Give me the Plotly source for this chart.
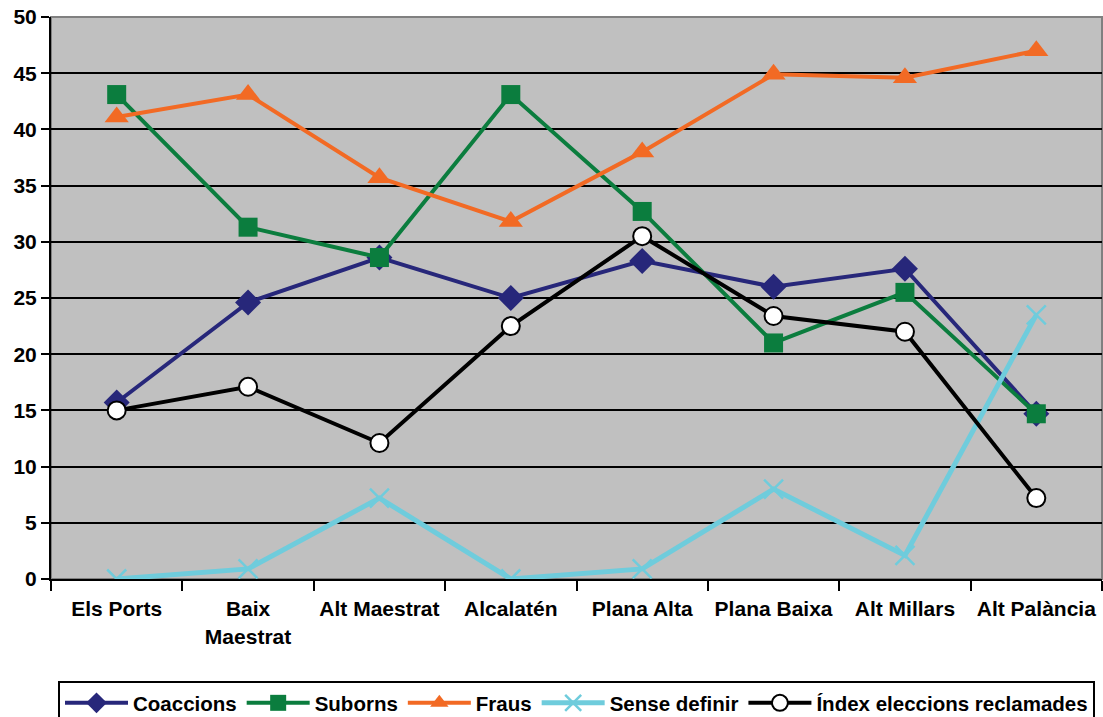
import plotly.graph_objects as go

categories = ["Els Ports", "Baix<br>Maestrat", "Alt Maestrat", "Alcalatén",
              "Plana Alta", "Plana Baixa", "Alt Millars", "Alt Palància"]

coaccions = [15.7, 24.6, 28.6, 25.0, 28.3, 26.0, 27.6, 14.7]
suborns = [43.1, 31.3, 28.6, 43.1, 32.7, 21.0, 25.5, 14.7]
fraus = [41.1, 43.1, 35.7, 31.8, 38.0, 44.9, 44.6, 47.0]
sense_definir = [0.0, 0.9, 7.2, 0.0, 0.9, 8.0, 2.1, 23.5]
index_reclamades = [15.0, 17.1, 12.1, 22.5, 30.5, 23.4, 22.0, 7.2]

y_ticks = [0, 5, 10, 15, 20, 25, 30, 35, 40, 45, 50]

NAVY = "#27277A"
GREEN = "#0B7D3E"
ORANGE = "#F26A24"
LBLUE = "#6FCCDC"

fig = go.Figure()

fig.add_trace(go.Scatter(
    x=categories, y=coaccions, name="Coaccions", mode="lines+markers",
    line=dict(color=NAVY, width=4),
    marker=dict(symbol="diamond", size=20, color=NAVY),
))
fig.add_trace(go.Scatter(
    x=categories, y=suborns, name="Suborns", mode="lines+markers",
    line=dict(color=GREEN, width=4),
    marker=dict(symbol="square", size=19, color=GREEN),
))
fig.add_trace(go.Scatter(
    x=categories, y=fraus, name="Fraus", mode="lines+markers",
    line=dict(color=ORANGE, width=4),
    marker=dict(symbol="triangle-up", size=21, color=ORANGE),
))
fig.add_trace(go.Scatter(
    x=categories, y=sense_definir, name="Sense definir", mode="lines+markers",
    line=dict(color=LBLUE, width=5),
    marker=dict(symbol="x-thin", size=19, color=LBLUE,
                line=dict(color=LBLUE, width=2.5)),
))
fig.add_trace(go.Scatter(
    x=categories, y=index_reclamades, name="Índex eleccions reclamades",
    mode="lines+markers",
    line=dict(color="black", width=4),
    marker=dict(symbol="circle", size=18, color="white",
                line=dict(color="black", width=2)),
))

FAMILY = "Liberation Sans, Arial, sans-serif"
font_bold = dict(family=FAMILY, size=21, color="black", weight="bold")

fig.update_layout(
    width=1103, height=760,
    margin=dict(l=51, r=1, t=17, b=181),
    paper_bgcolor="white",
    plot_bgcolor="#C0C0C0",
    font=font_bold,
    showlegend=True,
    legend=dict(
        orientation="h",
        x=0.50, xanchor="center",
        y=-0.1815, yanchor="top",
        bgcolor="white",
        bordercolor="black", borderwidth=2,
        font=dict(family=FAMILY, size=20.5, color="black", weight="bold"),
        itemwidth=63,
        tracegroupgap=0,
    ),
    xaxis=dict(
        type="category",
        categoryorder="array", categoryarray=categories,
        range=[-0.5, 7.5],
        showgrid=False,
        showline=True, linecolor="black", linewidth=2,
        ticks="outside", ticklen=10, tickwidth=2, tickcolor="black",
        tickson="boundaries",
        tickfont=font_bold,
        ticklabelstandoff=10,
        ticklabeloverflow="allow",
        zeroline=False,
        automargin=False,
    ),
    yaxis=dict(
        range=[0, 50],
        tickvals=y_ticks,
        showgrid=True, gridcolor="black", gridwidth=2,
        showline=True, linecolor="black", linewidth=2,
        ticks="outside", ticklen=8, tickwidth=2, tickcolor="black",
        tickfont=font_bold,
        ticklabeloverflow="allow",
        zeroline=False,
        automargin=False,
    ),
    shapes=[dict(type="rect", xref="paper", yref="paper", x0=0, y0=0, x1=1, y1=1,
                 line=dict(color="#808080", width=2), layer="below")],
)

fig.write_html("out.html",
               config={"displayModeBar": False},
               post_script="document.body.style.margin='0';")
